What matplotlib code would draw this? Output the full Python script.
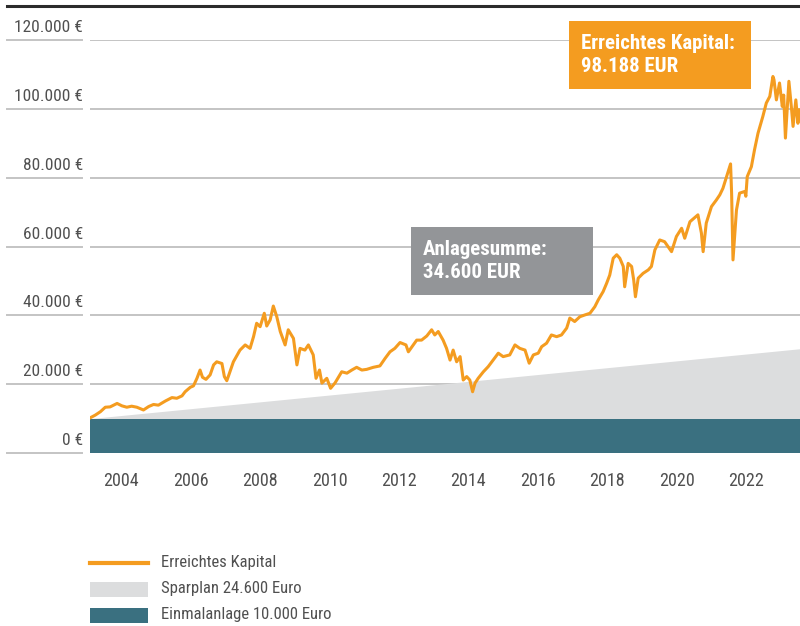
import matplotlib
matplotlib.use("Agg")
import matplotlib.pyplot as plt
import matplotlib.transforms as mtrans
from matplotlib.patches import Rectangle
from matplotlib.lines import Line2D

# ====== Daten ======
kapital_jahre = [
    2003.12, 2003.25, 2003.40, 2003.54, 2003.68, 2003.88, 2004.02, 2004.16, 2004.30, 2004.45,
    2004.64, 2004.79, 2004.93, 2005.07, 2005.27, 2005.46, 2005.60, 2005.75, 2005.84, 2005.99,
    2006.08, 2006.18, 2006.27, 2006.34, 2006.44, 2006.56, 2006.66, 2006.75, 2006.90, 2006.97,
    2007.04, 2007.10, 2007.23, 2007.42, 2007.57, 2007.71, 2007.81, 2007.90, 2008.00, 2008.12,
    2008.19, 2008.29, 2008.38, 2008.48, 2008.58, 2008.72, 2008.81, 2008.96, 2009.06, 2009.15,
    2009.29, 2009.39, 2009.53, 2009.61, 2009.71, 2009.78, 2009.92, 2010.03, 2010.16, 2010.35,
    2010.50, 2010.64, 2010.78, 2010.93, 2011.07, 2011.26, 2011.45, 2011.60, 2011.74, 2011.88,
    2012.03, 2012.20, 2012.27, 2012.41, 2012.51, 2012.65, 2012.80, 2012.94, 2013.03, 2013.13,
    2013.27, 2013.37, 2013.47, 2013.56, 2013.66, 2013.76, 2013.85, 2013.95, 2014.04, 2014.12,
    2014.19, 2014.28, 2014.43, 2014.57, 2014.71, 2014.86, 2015.00, 2015.19, 2015.34, 2015.48,
    2015.63, 2015.75, 2015.87, 2016.01, 2016.11, 2016.25, 2016.39, 2016.54, 2016.68, 2016.83,
    2016.92, 2017.06, 2017.21, 2017.35, 2017.50, 2017.64, 2017.74, 2017.88, 2017.98, 2018.07,
    2018.17, 2018.27, 2018.36, 2018.46, 2018.50, 2018.60, 2018.70, 2018.76, 2018.81, 2018.89,
    2019.03, 2019.18, 2019.27, 2019.37, 2019.51, 2019.65, 2019.85, 2019.99, 2020.14, 2020.23,
    2020.38, 2020.61, 2020.71, 2020.76, 2020.85, 2021.00, 2021.14, 2021.24, 2021.33, 2021.45,
    2021.55, 2021.58, 2021.62, 2021.72, 2021.81, 2021.96, 2021.99, 2022.03, 2022.15, 2022.24,
    2022.34, 2022.48, 2022.58, 2022.68, 2022.77, 2022.80, 2022.87, 2022.96, 2023.04, 2023.08,
    2023.13, 2023.23, 2023.30, 2023.35, 2023.43, 2023.49, 2023.54,
]
kapital_werte = [
    10300, 11000, 12000, 13300, 13400, 14400, 13700, 13300, 13600, 13300,
    12500, 13500, 14100, 13900, 15100, 16100, 15900, 16600, 17800, 19100,
    19500, 21700, 24100, 22000, 21400, 22700, 25600, 26500, 26000, 22200,
    21000, 22700, 26500, 29900, 31400, 30400, 33800, 37700, 36700, 40600,
    36900, 38700, 42700, 39600, 35300, 31400, 35800, 33300, 25600, 30400,
    29900, 31400, 28500, 21700, 24100, 20300, 21700, 18800, 20400, 23600,
    23200, 24100, 24900, 24100, 24300, 24900, 25300, 27500, 29400, 30400,
    32100, 31400, 29400, 31400, 32800, 32800, 34000, 35800, 34300, 35300,
    32800, 30400, 27000, 29900, 26500, 28000, 21200, 22200, 21200, 17800,
    20300, 21700, 23600, 25100, 27000, 29000, 28000, 28500, 31400, 30400,
    29900, 26100, 28500, 29000, 30900, 31900, 34300, 33800, 34300, 36300,
    39200, 38200, 39600, 40100, 40600, 42500, 44500, 46900, 49300, 51700,
    56600, 57600, 56600, 54200, 48300, 55100, 54200, 50300, 45400, 50800,
    52200, 53200, 54200, 59000, 61900, 61400, 58500, 62900, 65300, 62400,
    67200, 69200, 63900, 58500, 66800, 71600, 73500, 75000, 76900, 80800,
    84000, 75500, 56100, 70600, 75500, 76000, 74600, 80300, 83200, 88100,
    92900, 97800, 101700, 103600, 109400, 108500, 102600, 107500, 100700, 104000,
    91500, 108000, 100700, 94900, 102600, 95800, 99700,
]

# Sparplan (Einmalanlage + Sparraten), linear
sparplan_jahre = [2003.1, 2023.55]
sparplan_werte = [10000, 30300]
einmalanlage = 10000

y_ticks = [0, 20000, 40000, 60000, 80000, 100000, 120000]
y_labels = ["0 €", "20.000 €", "40.000 €", "60.000 €", "80.000 €", "100.000 €", "120.000 €"]
x_ticks = [2004, 2006, 2008, 2010, 2012, 2014, 2016, 2018, 2020, 2022]

legend_labels = ["Erreichtes Kapital", "Sparplan 24.600 Euro", "Einmalanlage 10.000 Euro"]
box_kapital = "Erreichtes Kapital:\n98.188 EUR"
box_summe = "Anlagesumme:\n34.600 EUR"

# ====== Farben ======
c_orange = "#f49c20"
c_grau = "#dcddde"
c_teal = "#3a7080"
c_box_grau = "#939598"
c_grid = "#c4c4c4"
c_text = "#505050"

FONT = ["Roboto Condensed", "Liberation Sans Narrow", "Liberation Sans", "DejaVu Sans"]
plt.rcParams["font.family"] = FONT

W, H = 800, 626
fig = plt.figure(figsize=(W / 100, H / 100), dpi=100)


def fx(px):
    return px / W


def fy(py):
    return 1 - py / H


ax = fig.add_axes([fx(90), fy(453), fx(800) - fx(90), fy(40) - fy(453)])
ax.set_xlim(2003.1, 2023.55)
ax.set_ylim(0, 120000)

# Flaechen
ax.fill_between([2003.1, 2023.55], 0, einmalanlage, color=c_teal, lw=0, zorder=2)
ax.fill_between(sparplan_jahre, einmalanlage, sparplan_werte, color=c_grau, lw=0, zorder=1)

# Gitterlinien
for v in y_ticks[1:]:
    ax.axhline(v, color=c_grid, lw=1.4, zorder=0)

# Linie
ax.plot(kapital_jahre, kapital_werte, color=c_orange, lw=2.2, zorder=4,
        solid_joinstyle="round")

for s in ax.spines.values():
    s.set_visible(False)
ax.set_yticks([])
ax.set_xticks(x_ticks)
ax.set_xticklabels([str(t) for t in x_ticks], fontsize=13, color=c_text)
ax.tick_params(axis="x", length=0, pad=14)

# y-Beschriftung links mit kurzen Linien
blend = mtrans.blended_transform_factory(fig.transFigure, ax.transData)
for v, lab in zip(y_ticks, y_labels):
    ax.plot([fx(7), fx(82)], [v, v], color=c_grid, lw=1.4, transform=blend, clip_on=False)
    ax.annotate(lab, xy=(fx(83), v), xycoords=("figure fraction", "data"),
                xytext=(0, 3.5), textcoords="offset points",
                ha="right", va="bottom", fontsize=12.5, color=c_text)

# Linie oben
fig.add_artist(Line2D([fx(7), fx(800)], [fy(6), fy(6)], color="#2b2b2b", lw=2.2))


# Infoboxen
def infobox(x0, y0, x1, y1, color, text):
    fig.add_artist(Rectangle((fx(x0), fy(y1)), fx(x1) - fx(x0), fy(y0) - fy(y1),
                             color=color, lw=0, zorder=5))
    fig.text(fx(x0 + 12), fy((y0 + y1) / 2), text, color="white", fontsize=15,
             fontweight="bold", ha="left", va="center", linespacing=1.3, zorder=6)


infobox(569, 21, 751, 89, c_orange, box_kapital)
infobox(411, 227, 593, 295, c_box_grau, box_summe)

# Legende
leg_y = [563, 589, 615]
fig.add_artist(Line2D([fx(90), fx(148)], [fy(leg_y[0]), fy(leg_y[0])], color=c_orange, lw=3))
for yy, col in zip(leg_y[1:], [c_grau, c_teal]):
    fig.add_artist(Rectangle((fx(90), fy(yy + 7.5)), fx(148) - fx(90), fy(yy - 7.5) - fy(yy + 7.5),
                             color=col, lw=0))
for yy, lab in zip(leg_y, legend_labels):
    fig.text(fx(161), fy(yy), lab, fontsize=12, color=c_text, ha="left", va="center")

fig.savefig("out.png", dpi=100)
